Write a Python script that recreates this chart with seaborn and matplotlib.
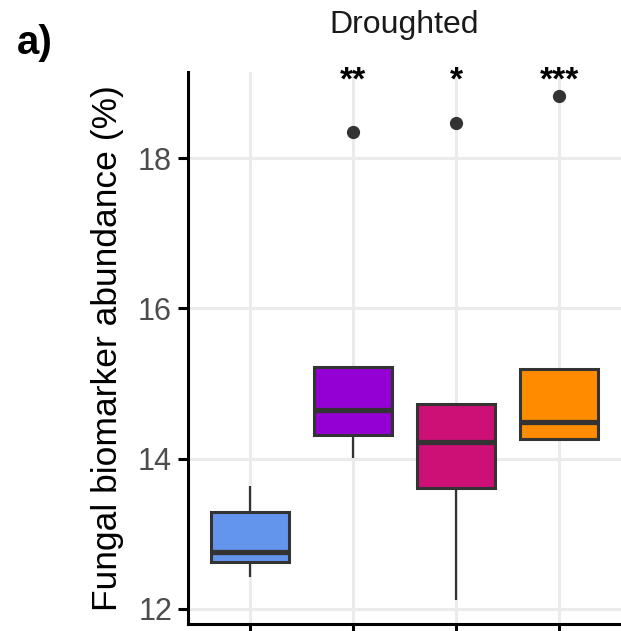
import matplotlib
matplotlib.use("Agg")
import matplotlib.pyplot as plt
import seaborn as sns
import pandas as pd

# ---- data ----
groups = ["G1", "G2", "G3", "G4"]
g1_values = [12.42, 12.63, 12.76, 13.29, 13.64]
g2_values = [14.01, 14.31, 14.65, 15.22, 18.34]
g3_values = [12.12, 13.61, 14.22, 14.73, 18.46]
g4_values = [14.26, 14.26, 14.49, 15.19, 18.82]
colors = ["#6495ED", "#9400D3", "#CD1076", "#FF8C00"]
stars = ["", "**", "*", "***"]
y_ticks = [12, 14, 16, 18]
title = "Droughted"
y_label = "Fungal biomarker abundance (%)"

df = pd.DataFrame({
    "group": sum([[g] * len(v) for g, v in zip(groups, [g1_values, g2_values, g3_values, g4_values])], []),
    "value": g1_values + g2_values + g3_values + g4_values,
})

sns.set_style("white")
plt.rcParams["font.family"] = ["Liberation Sans", "DejaVu Sans"]

W, H = 621, 631
fig = plt.figure(figsize=(W / 100, H / 100), dpi=100)
ax = fig.add_axes([188 / W, 7 / H, (621 - 188) / W, (624 - 72) / H])

sns.boxplot(
    data=df, x="group", y="value", hue="group", order=groups, hue_order=groups,
    palette=colors, saturation=1, width=0.75, linecolor="#333333", linewidth=2.2,
    showcaps=False, legend=False, ax=ax,
    medianprops=dict(linewidth=3.8, color="#333333"),
    whiskerprops=dict(linewidth=1.6, color="#333333"),
    flierprops=dict(marker="o", markerfacecolor="#333333", markeredgecolor="#333333",
                    markersize=8.5),
    zorder=3,
)

ax.set_xlim(-0.6, 3.6)
ax.set_ylim(11.8, 19.145)
ax.set_yticks(y_ticks)
ax.set_yticklabels([str(t) for t in y_ticks])
ax.set_xticks(range(len(groups)))
ax.set_xticklabels([])
ax.set_xlabel("")

ax.grid(True, color="#EBEBEB", linewidth=2.2, zorder=0)
ax.set_axisbelow(True)
for s in ["top", "right"]:
    ax.spines[s].set_visible(False)
for s in ["left", "bottom"]:
    ax.spines[s].set_color("black")
    ax.spines[s].set_linewidth(2.2)
ax.tick_params(axis="y", length=7, width=2.2, color="black", labelsize=22,
               labelcolor="#4D4D4D", pad=4.5, left=True)
ax.tick_params(axis="x", length=7, width=2.2, color="black", bottom=True)

ax.set_ylabel(y_label, fontsize=25.5, color="black")
ax.yaxis.label.set_va("center")
ax.yaxis.set_label_coords((108 - 188) / 433, 0.5)

for i, s in enumerate(stars):
    if s:
        ax.text(i, 19.02, s, ha="center", va="center", fontsize=24, color="black",
                fontweight="bold", clip_on=False)

fig.text(404 / W, 1 - 25 / H, title, ha="center", va="center", fontsize=23,
         color="#1A1A1A")
fig.text(17 / W, 1 - 43 / H, "a)", ha="left", va="center", fontsize=29,
         fontweight="bold", color="black")

fig.savefig("out.png", dpi=100)
